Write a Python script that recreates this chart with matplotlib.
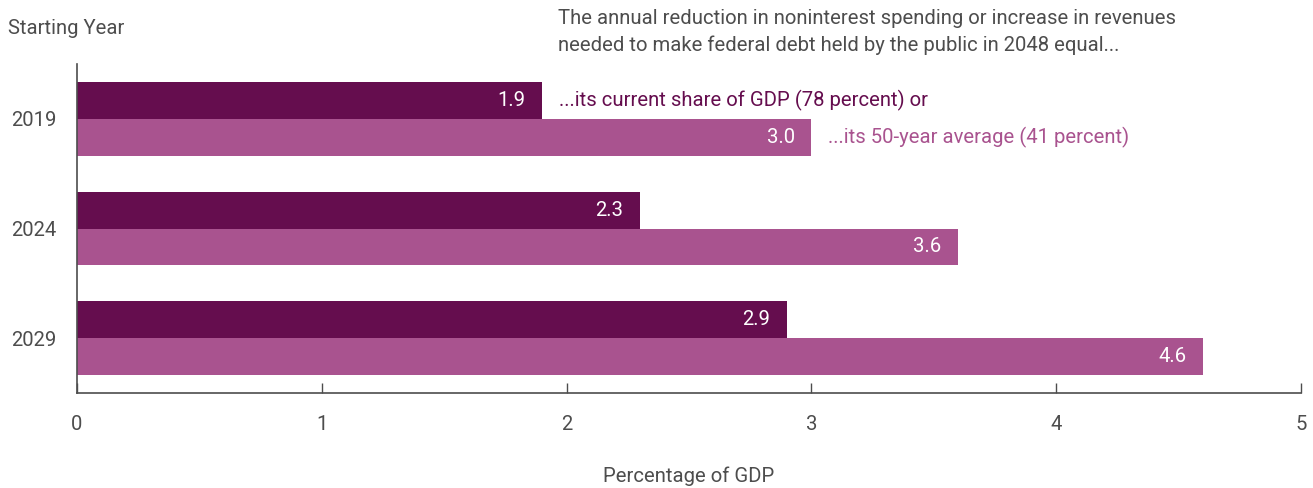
import matplotlib
matplotlib.use("Agg")
import matplotlib.pyplot as plt
import numpy as np

years = ["2019", "2024", "2029"]
current_share = [1.9, 2.3, 2.9]
fifty_year_avg = [3.0, 3.6, 4.6]
x_ticks = [0, 1, 2, 3, 4, 5]

dark = "#650D4E"
light = "#A9538F"
gray = "#4D4D4D"

plt.rcParams['font.family'] = ['Roboto', 'DejaVu Sans']

fig = plt.figure(figsize=(13.13, 4.88), dpi=100)
ax = fig.add_axes([77/1313, 1-393/488, (1301-77)/1313, (393-64)/488])

y = np.arange(len(years))
h = 0.335
ax.barh(y - h/2, current_share, height=h, color=dark, edgecolor='none')
ax.barh(y + h/2, fifty_year_avg, height=h, color=light, edgecolor='none')

fs = 14.6
for yi, v in zip(y, current_share):
    ax.annotate(f"{v:.1f}", (v, yi - h/2), xytext=(-12, 0), textcoords='offset points',
                ha='right', va='center', color='white', fontsize=fs)
for yi, v in zip(y, fifty_year_avg):
    ax.annotate(f"{v:.1f}", (v, yi + h/2), xytext=(-12, 0), textcoords='offset points',
                ha='right', va='center', color='white', fontsize=fs)

ax.annotate("...its current share of GDP (78 percent) or", (current_share[0], y[0] - h/2),
            xytext=(12, 0), textcoords='offset points', ha='left', va='center', color=dark, fontsize=fs)
ax.annotate("...its 50-year average (41 percent)", (fifty_year_avg[0], y[0] + h/2),
            xytext=(12, 0), textcoords='offset points', ha='left', va='center', color=light, fontsize=fs)

ax.set_xlim(0, 5)
ax.set_ylim(2.5, -0.5)
ax.set_xticks(x_ticks)
ax.set_xticklabels([str(t) for t in x_ticks])
ax.set_yticks(y)
ax.set_yticklabels(years)
ax.tick_params(axis='x', direction='in', length=7, width=1, color=gray, labelcolor=gray, labelsize=fs, pad=16)
ax.tick_params(axis='y', length=0, labelcolor=gray, labelsize=fs, pad=15)
for s in ['top', 'right']:
    ax.spines[s].set_visible(False)
for s in ['left', 'bottom']:
    ax.spines[s].set_color(gray)
    ax.spines[s].set_linewidth(1.2)

ax.set_xlabel("Percentage of GDP", color=gray, fontsize=fs, labelpad=23)

fig.text(8/1313, 1-28/488, "Starting Year", color=gray, fontsize=fs, ha='left', va='center')
fig.text(558/1313, 1-32/488,
         "The annual reduction in noninterest spending or increase in revenues\nneeded to make federal debt held by the public in 2048 equal...",
         color=gray, fontsize=fs, ha='left', va='center', linespacing=1.5)

fig.savefig("out.png", dpi=100)
